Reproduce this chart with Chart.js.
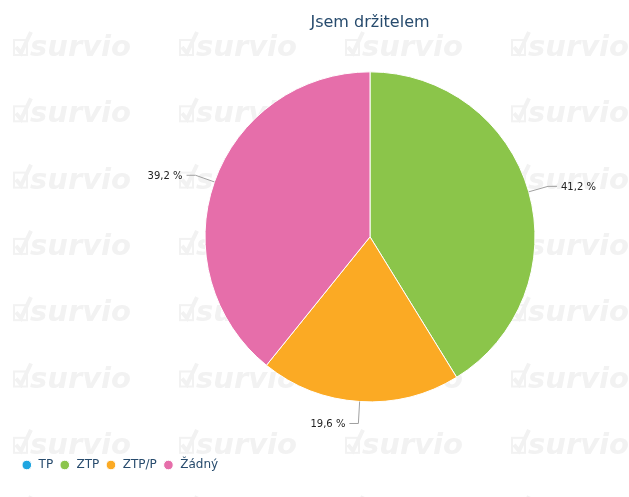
<!DOCTYPE html>
<html lang="cs">
<head>
<meta charset="utf-8">
<title>Jsem držitelem</title>
<script src="https://cdn.jsdelivr.net/npm/chart.js@4.4.1/dist/chart.umd.min.js"></script>
<style>
    html, body { margin: 0; padding: 0; background: #fff; }
    #wrap { position: relative; width: 629px; height: 497px; }
</style>
</head>
<body>
<div id="wrap"><canvas id="pie-chart"></canvas></div>
<script>
// Data (values are percentages)
const categories = ['TP', 'ZTP', 'ZTP/P', 'Žádný'];
const shares = [0, 41.2, 19.6, 39.2];
const sliceColors = ['#1fa5e0', '#8bc54a', '#fbaa24', '#e66eaa'];

// Faint "survio" watermark tiles behind the chart
const watermark = {
    id: 'watermark',
    beforeDraw(chart) {
        const ctx = chart.ctx;
        ctx.save();
        ctx.fillStyle = '#f2f2f2';
        ctx.strokeStyle = '#f2f2f2';
        ctx.font = 'italic bold 29px "DejaVu Sans"';
        ctx.textBaseline = 'alphabetic';
        for (let row = 0; row < 8; row++) {
            const base = 56 + row * 66.3;
            for (let col = 0; col < 4; col++) {
                const x0 = 14 + col * 166;
                // little check box icon
                ctx.lineWidth = 2;
                ctx.strokeRect(x0, base - 16, 13, 15);
                ctx.lineWidth = 4;
                ctx.beginPath();
                ctx.moveTo(x0 + 2, base - 9);
                ctx.lineTo(x0 + 7, base - 3);
                ctx.lineTo(x0 + 17, base - 24);
                ctx.stroke();
                ctx.fillText('survio', x0 + 16, base);
            }
        }
        ctx.restore();
    }
};

// The pie sits right of centre, but the legend starts at the left edge
const legendToLeft = {
    id: 'legendToLeft',
    afterLayout(chart) {
        const legend = chart.legend;
        const shift = legend.left - 15.2;
        legend.left -= shift;
        legend.right -= shift;
    }
};

// Percentage labels with connector lines outside the slices
const sliceLabels = {
    id: 'sliceLabels',
    afterDatasetsDraw(chart) {
        const ctx = chart.ctx;
        const meta = chart.getDatasetMeta(0);
        ctx.save();
        ctx.font = '10px "DejaVu Sans"';
        ctx.textBaseline = 'middle';
        ctx.fillStyle = '#222';
        ctx.strokeStyle = '#a0a0a0';
        ctx.lineWidth = 1;
        meta.data.forEach((arc, i) => {
            const value = shares[i];
            if (!value) return;
            const { x, y, startAngle, endAngle, outerRadius } =
                arc.getProps(['x', 'y', 'startAngle', 'endAngle', 'outerRadius'], true);
            const mid = (startAngle + endAngle) / 2;
            const cos = Math.cos(mid);
            const sin = Math.sin(mid);
            const right = cos >= 0;
            const px = x + cos * outerRadius;
            const py = y + sin * outerRadius;
            const ex = x + cos * (outerRadius + 20);
            const ey = y + sin * (outerRadius + 20) + (sin > 0.9 ? 2 : 0);
            const dir = right ? 1 : -1;

            ctx.beginPath();
            ctx.moveTo(px, py);
            ctx.lineTo(ex, ey);
            ctx.lineTo(ex + dir * 9, ey);
            ctx.stroke();

            ctx.textAlign = right ? 'left' : 'right';
            ctx.fillText(value.toFixed(1).replace('.', ',') + ' %', ex + dir * 13, ey + 1);
        });
        ctx.restore();
    }
};

const ctx = document.getElementById('pie-chart').getContext('2d');
window.pieChart = new Chart(ctx, {
    type: 'pie',
    data: {
        labels: categories,
        datasets: [{
            data: shares,
            backgroundColor: sliceColors,
            borderColor: '#fff',
            borderWidth: 1,
            radius: 165
        }]
    },
    options: {
        responsive: true,
        maintainAspectRatio: false,
        animation: false,
        events: [],
        layout: {
            padding: { left: 111, right: 0, top: 0, bottom: 16 }
        },
        plugins: {
            title: {
                display: true,
                text: 'Jsem držitelem',
                color: '#274b6d',
                font: { family: '"DejaVu Sans"', size: 16, weight: 'normal' },
                padding: { top: 13, bottom: -11.7 }
            },
            legend: {
                position: 'bottom',
                align: 'start',
                labels: {
                    usePointStyle: true,
                    pointStyle: 'circle',
                    boxWidth: 11.6,
                    boxHeight: 6.8,
                    padding: 5.8,
                    color: '#274b6d',
                    font: { family: '"DejaVu Sans"', size: 12 }
                }
            },
            tooltip: { enabled: false }
        }
    },
    plugins: [watermark, legendToLeft, sliceLabels]
});
</script>
</body>
</html>
